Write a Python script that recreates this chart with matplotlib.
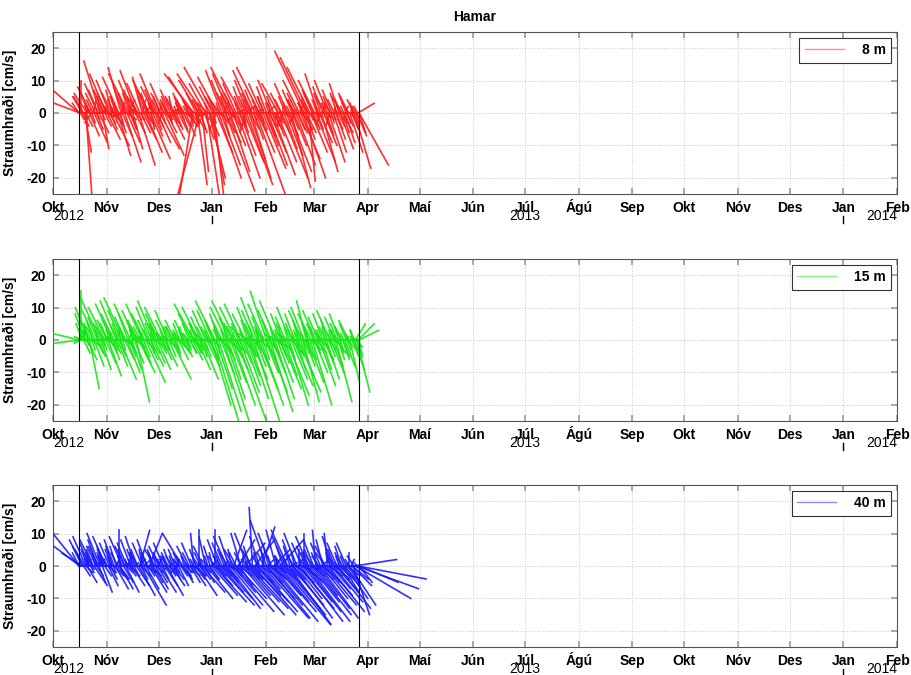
import numpy as np
import pandas as pd
import matplotlib
matplotlib.use('Agg')
import matplotlib.pyplot as plt
import matplotlib.dates as mdates
from matplotlib.lines import Line2D

plt.rcParams['font.family'] = ['Liberation Sans', 'DejaVu Sans']

# mælitími (deployment)
start = '2012-10-16'
end = '2013-03-27'

month_labels = ['Okt', 'Nóv', 'Des', 'Jan', 'Feb', 'Mar', 'Apr', 'Maí', 'Jún',
                'Júl', 'Ágú', 'Sep', 'Okt', 'Nóv', 'Des', 'Jan', 'Feb']
depths = ['8 m', '15 m', '40 m']
colors = ['#ff1a1a', '#14e614', '#1a1aff']

# 8 m: austur (u) og norður (v) þáttur [cm/s], ein lína ~ 11 dagar
u8 = [-8, -8, 0, 2, -3, 2, 2, -4, -1, 3, -4, 1, -2, 4, -3, 1,
      -4, 3, -5, -1, 2, -3, 2, -5, 4, -1, -4, 2, -3, 5, -2, 1,
      -2, 4, -5, 1, -4, 3, -3, 5, -1, 4, -6, -2, 2, -4, 3, 0,
      3, -5, -2, 5, -4, 1, -3, 4, -2, 5, -3, 2, -5, 6, -1, 3,
      -4, 2, -5, 4, -2, 6, -3, 1, -4, 6, -1, 3, -2, 1, -3, 4,
      -2, 1, -3, 2, -1, 3, -2, 1, -2, 2, -3, 3, -1, 2, -2, 2,
      -7, -4, -9, 1, -3, 3, -6, -7, -2, 2, -8, 3, -5, 4, -1, 5,
      -8, 4, -4, 3, -2, 5, -6, 7, -1, 6, -5, 2, -4, 9, -3, 4,
      -5, 6, -3, 4, -7, 2, -4, 7, -1, 5, -6, 2, -3, 6, -2, 8,
      -4, 5, -2, 6, -6, 3, -3, 9, -1, 5, -7, 2, -4, 7, -2, 4,
      -3, 6, -1, 5, -4, 7, -2, 3, 1, 6, -5, 1, -3, 8, 0, 4,
      -2, 5, -4, 7, -1, 6, -3, 4, -2, 6, -3, 2, -5, 6, -1, 7,
      -9, 3, -8, -2, 2, -7, 5, -3, 2, -5, 6, -1, -4, 4, -2, 5,
      -3, 4, -1, 2, -4, 5, -2, 1, -3, 4, 0, 3, -2, 2, -3, 4,
      -2, 2, -1, 3, -2, 1, -3, 4, 0, 2, -1, 5, -1, 3, 5, 9]
v8 = [7, 3, 10, -4, 5, -12, -28, 6, 2, -7, 8, -3, 4, -9, 6, -2,
      9, -6, 16, 3, -11, 7, -4, 12, -8, 2, 10, -5, 6, -10, 4, -2,
      5, -13, 11, -3, 14, -7, 8, -15, 3, -9, 12, 6, -5, 10, -11, 2,
      -6, 13, 4, -16, 9, -2, 11, -8, 5, -12, 7, -4, 10, -14, 3, -7,
      8, -5, 12, -9, 4, -11, 6, -3, 9, -13, 3, -6, 5, -2, 7, -8,
      4, -3, 5, -5, 2, -6, 6, -2, 3, -4, 5, -7, 2, -3, 4, -4,
      11, -25, 12, -3, 6, -22, 10, -26, 4, -18, 12, -8, 9, -26, 3, -20,
      14, -22, 8, -25, 5, -12, 11, -20, 3, -16, 13, -7, 10, -24, 6, -9,
      12, -18, 6, -10, 14, -4, 9, -20, 3, -13, 11, -6, 8, -15, 5, -22,
      10, -14, 4, -20, 13, -8, 7, -25, 2, -12, 14, -5, 9, -17, 5, -10,
      8, -16, 3, -12, 10, -19, 5, -7, -4, -15, 9, -2, 6, -20, 2, -11,
      5, -13, 9, -18, 2, -23, 7, -10, 4, -16, 6, -5, 10, -14, 3, -20,
      19, -8, 17, 4, -21, 14, -12, 7, -5, 10, -15, 3, 12, -9, 6, -18,
      8, -10, 3, -6, 10, -15, 5, -3, 7, -12, 2, -8, 6, -4, 9, -11,
      4, -6, 2, -9, 5, -3, 6, -12, 1, -5, 3, -17, 2, -7, 3, -16]
# 8 m, minni straumar (þéttur kjarni)
u8c = [-2, 1, -3, 2, 2, -2, -1, -2, 1, 3, 2, -3, 2, 1, -2, 3,
       -3, 2, 1, -2, 3, -1, -2, 2, 1, -3, -2, 3, 2, 2, -1, -3,
       2, -3, -2, 3, 1, 2, 2, -2, 3, 1, -1, -3, 2, 1, -2, -1,
       -1, 2, -2, 1, 2, -1, 2, 1, -2, -1, 2, -2, 1, 2, -1, 1,
       2, -2, 3, 1, -2, 2, -1, -2, 1, -3, 3, 2, 1, -3, -2, 2,
       -3, 2, 1, 3, -2, 2, -1, 3, -3, -2, 2, 2, -2, 1, 3, -2,
       -2, 3, -3, 1, 2, 3, -2, 1, -1, -2, 3, 2, 2, -1, 3, 1,
       2, -1, 3, -2, -2, 1, -1, 3, 2, 2, -2, -2, 3, 1, 2, 3,
       -2, 3, -2, 1, 2, -3, 2, 2, -2, -1, 1, 3, -3, 2, -1, -2,
       1, -2, 2, -1, 2, -3, 3, 1, 2, -2, 1, 2, -2, 1, -1, 2]
v8c = [3, -2, 5, 1, -4, 6, 2, -3, 4, 0, -5, 7, 1, -2, 5, -1,
       6, -3, 2, 7, -4, 1, 5, -6, 3, -1, 6, -2, 4, -5, 2, 7,
       -2, 5, 1, -6, 4, 2, -3, 6, 0, -5, 3, 7, -4, 2, 5, -3,
       3, -2, 4, -3, 1, 5, -4, 2, -1, 3, -5, 4, 0, -2, 3, -4,
       -3, 2, -5, -1, 4, -6, 1, -4, -2, 3, -7, 0, -3, 5, -5, -1,
       4, -3, 2, -6, 5, -1, 3, -5, 6, -2, 1, -4, 5, -3, 2, -6,
       3, -5, 6, -2, 1, -6, 4, -3, -1, 5, -7, 2, -4, 3, -5, 0,
       -3, 2, -6, 4, -4, -1, 3, -7, 1, -5, 4, -3, -6, 2, -2, -5,
       3, -6, 5, -2, -4, 6, -1, -5, 4, -3, 2, -7, 5, -2, -4, 3,
       -2, 4, -5, 1, -3, 5, -6, 2, -4, 3, -1, -5, 4, -3, 2, -6]

# 15 m
u15 = [-8, -8, 0, -2, 2, -3, -1, 3, -4, 3, -3, 1, -2, 3, -4, 1,
       -3, 2, -6, 3, -2, 1, -5, 3, -3, 4, -1, 2, -5, 2, -4, 1,
       -5, 3, -2, 5, -4, 1, -6, 3, -2, 4, -3, 2, -5, 3, -1, 3,
       -4, 4, -3, 5, -2, 3, -5, 2, -4, 6, -1, 3, -4, 4, -2, 2,
       -5, 3, -2, 4, -4, 2, -5, 3, -1, 4, -3, 1, -4, 2, -2, 6,
       -2, 2, -3, 1, -1, 3, -2, 1, -1, 2, -3, 2, -1, 1, -2, 2,
       -4, 3, -6, 2, -2, 4, -5, 1, -3, 5, -2, 2, -4, 4, -1, 3,
       -4, 6, -2, 8, -6, 5, -1, 7, -3, 4, -3, 8, -1, 6, -5, 4,
       -3, 5, -6, 7, -2, 4, -5, 9, -2, 6, -5, 3, -1, 5, -4, 4,
       -2, 6, -4, 5, -1, 8, -4, 3, -5, 6, -1, 7, -3, 2, -5, 4,
       -5, 6, -2, 7, -4, 4, -1, 6, -5, 5, -1, 3, -3, 6, -2, 4,
       -3, 7, -1, 6, -4, 5, -2, 6, -3, 3, -1, 7, -2, 4, -4, 5,
       -4, 3, -3, 5, -2, 2, -4, 6, -1, 4, -4, 1, -3, 5, -1, 3,
       -3, 3, -1, 4, -2, 2, -4, 4, -1, 3, -3, 5, -2, 2, -3, 1,
       -2, 2, -1, 3, -2, 1, -3, 3, 0, 2, -1, 3, 3, 4, 5, 6]
v15 = [2, -1, 15, 5, -4, 8, 3, -6, 10, -15, 6, -3, 4, -8, 9, -2,
       7, -5, 13, -9, 4, -3, 10, -7, 6, -11, 3, -4, 11, -6, 8, -2,
       12, -8, 5, -12, 9, -3, 13, -6, 4, -10, 8, -5, 11, -9, 3, -7,
       9, -19, 6, -10, 4, -7, 11, -5, 8, -13, 3, -6, 10, -8, 5, -4,
       12, -7, 5, -9, 8, -4, 10, -6, 3, -8, 6, -3, 9, -5, 4, -12,
       4, -5, 6, -3, 2, -6, 5, -2, 3, -4, 6, -5, 2, -3, 5, -4,
       8, -6, 11, -4, 5, -9, 10, -3, 7, -12, 4, -5, 9, -8, 3, -6,
       9, -20, 5, -26, 12, -15, 4, -22, 8, -10, 6, -25, 3, -18, 10, -12,
       7, -13, 12, -20, 4, -9, 10, -25, 5, -16, 11, -7, 3, -14, 8, -11,
       6, -18, 10, -12, 4, -25, 9, -8, 13, -15, 3, -20, 7, -6, 11, -10,
       15, -16, 6, -22, 9, -10, 4, -18, 12, -13, 3, -7, 8, -15, 5, -11,
       7, -17, 4, -20, 10, -12, 5, -14, 8, -9, 3, -16, 6, -11, 9, -19,
       10, -8, 12, -13, 5, -6, 8, -20, 4, -10, 9, -4, 7, -14, 3, -9,
       8, -7, 4, -12, 6, -5, 9, -10, 3, -8, 7, -19, 5, -6, 8, -4,
       4, -6, 2, -8, 5, -3, 6, -13, 1, -5, 3, -9, 5, -16, 5, 3]
u15c = [2, -2, 1, -3, 2, -1, -2, 3, -2, 1, 2, -1, 3, 1, -3, 2,
        -2, 3, -1, -3, 2, 1, -2, 2, -1, 3, -3, 2, 1, 2, 2, -2,
        3, -2, 1, 2, -1, -2, 3, -3, 2, 1, -1, -2, 3, 2, -3, 1,
        -2, 1, -1, 2, 1, -2, 2, -1, 1, -2, 2, -1, 2, 1, -2, 2,
        3, -1, 2, -2, -3, 2, -2, 1, 2, -2, 3, -1, 2, -3, 1, 2,
        -2, 3, -2, 3, -1, 2, 1, 3, -3, 2, -1, 2, -3, 2, 2, 3,
        -3, 2, -2, 2, 1, 3, -1, 2, -2, -3, 3, 1, 3, -2, 2, -1,
        3, -2, 2, -1, 2, -2, -3, 2, 1, 3, -2, 1, 2, -1, 3, 2,
        -3, 2, -1, 2, 3, -2, 1, 3, -1, 2, -2, 3, -2, 1, 2, -1,
        2, -1, 3, -2, 1, -2, 2, 1, 3, -1, 2, 3, -1, 2, -2, 1]
v15c = [2, -1, 4, 1, -3, 5, 3, -2, 6, 0, -4, 3, 1, -2, 5, 2,
        5, -3, 1, 6, -4, 2, 4, -5, 3, -1, 7, -2, 2, -4, 1, 6,
        -2, 4, 2, -5, 3, 1, -3, 6, 0, -4, 2, 5, -3, 1, 4, -2,
        2, -3, 3, -2, 1, 4, -4, 2, -1, 3, -3, 4, 0, -2, 2, -4,
        -2, 3, -4, 1, 5, -5, 2, -3, -1, 4, -6, 1, -2, 6, -4, 0,
        3, -4, 1, -6, 4, -2, 2, -5, 5, -3, 0, -4, 4, -2, 1, -5,
        2, -5, 5, -3, 0, -6, 3, -2, -1, 4, -6, 1, -4, 2, -5, 1,
        -2, 3, -5, 4, -3, -1, 2, -6, 1, -4, 3, -2, -5, 2, -1, -4,
        4, -5, 3, -1, -3, 5, 0, -4, 3, -2, 2, -6, 4, -1, -3, 2,
        -1, 3, -4, 2, -3, 4, -5, 1, -3, 2, 0, -4, 3, -2, 1, -5]

# 40 m
u40 = [-8, -8, -6, -4, 2, -3, -4, 3, -1, -3, 1, -2, -4, 4, -1, -3,
       -3, 2, -4, -1, 3, -2, 2, -4, -1, 3, -3, 2, -2, 1, -3, 4,
       -2, 3, 0, 4, -1, -4, 3, -2, 4, -3, -1, 2, -3, 4, -1, 1,
       -3, 4, -2, 5, 3, 2, -3, 7, -1, 4, -3, 2, 4, 5, -1, 3,
       -2, 4, -1, 3, -3, 5, -1, 2, -3, 4, -1, 5, -2, 2, -2, 4,
       -1, 2, -2, 1, -1, 3, -2, 2, -6, 3, -1, 2, -3, 1, -2, 3,
       -3, 4, -1, 3, -2, 6, 0, 2, -2, 7, -3, 3, -2, 8, -1, 3,
       -2, 8, -1, 10, 0, 5, -3, 11, -1, 7, -3, 9, -2, 4, -4, 10,
       -3, 10, -1, 7, 4, 12, -2, 9, 5, 4, -3, 13, 0, 8, 6, 10,
       -4, 12, -2, 9, -1, 13, 6, 10, -1, 12, -3, 6, 4, 14, -1, 9,
       -5, 13, -2, 10, -4, 14, 5, 8, -3, 12, -1, 9, 7, 15, -2, 11,
       -4, 12, -5, 13, -2, 10, -3, 12, -1, 8, -4, 11, 0, 13, -3, 9,
       0, 11, -3, 13, -4, 9, -2, 12, -3, 7, -1, 10, -2, 12, -3, 8,
       -2, 10, -3, 8, -1, 11, -1, 6, -3, 9, -2, 7, -3, 10, -1, 6,
       -2, 5, -1, 7, -3, 4, 0, 8, 1, 6, 5, 13, 17, 19, 21, 12]
v40 = [10, 6, 4, 8, -3, 5, 9, -5, 2, 7, -2, 4, 8, -6, 3, 6,
       8, -5, 10, 3, -8, 6, -3, 9, 2, -6, 7, -4, 5, -2, 8, -7,
       6, -4, 11, -7, 3, 9, -5, 5, -8, 7, 2, -3, 8, -6, 4, -2,
       9, -6, 5, -9, 11, -4, 7, -12, 3, -7, 8, -3, 10, -8, 4, -5,
       5, -7, 3, -5, 6, -8, 2, -4, 7, -6, 3, -9, 4, -3, 5, -6,
       3, -4, 5, -2, 2, -6, 4, -3, 10, -5, 3, -4, 6, -2, 4, -5,
       7, -6, 10, -4, 5, -9, 11, -3, 4, -8, 6, -5, 9, -10, 3, -4,
       6, -9, 4, -11, 11, -6, 8, -12, 3, -8, 7, -10, 5, -5, 9, -13,
       9, -12, 5, -8, 11, -14, 4, -10, 8, -6, 10, -15, 3, -9, 7, -11,
       10, -13, 6, -9, 18, -15, 8, -11, 4, -14, 9, -7, 12, -16, 5, -10,
       14, -16, 7, -12, 10, -17, 5, -9, 11, -14, 3, -11, 8, -18, 6, -13,
       9, -15, 11, -18, 6, -12, 8, -16, 4, -10, 10, -13, 5, -17, 7, -11,
       10, -14, 6, -17, 9, -11, 5, -15, 8, -9, 11, -13, 4, -16, 7, -10,
       8, -12, 6, -9, 10, -14, 4, -7, 9, -11, 5, -8, 7, -13, 3, -6,
       6, -8, 3, -10, 7, -5, 4, -12, 2, -6, -15, 2, -10, -7, -4, -5]
u40c = [-2, -1, -3, 2, 2, -2, -1, 1, -2, 3, 2, -3, 1, -1, -2, 2,
        -3, 2, -1, -2, 3, 1, -2, 3, -1, 2, -3, 2, 1, 3, -1, -2,
        1, -2, 2, 3, -1, 2, 3, -2, 2, 3, -1, -3, 2, 1, -2, 1,
        -1, 2, -2, 3, 1, -2, 3, 1, -1, -2, 3, -2, 1, 2, -1, 3,
        2, -1, 3, 1, -2, 3, -1, 2, 1, -2, 3, 1, 2, -2, 3, 2,
        -2, 3, 1, 4, -2, 2, -1, 3, -3, 2, 1, 4, -2, 2, 1, 4,
        -2, 4, -3, 2, 1, 5, -2, 3, 1, -2, 5, 2, 4, -1, 4, 1,
        3, -1, 5, -2, 4, 2, -1, 5, 2, 4, -2, 3, 5, 1, 3, 4,
        -2, 5, -2, 3, 4, -3, 2, 5, -2, 3, 2, 5, -3, 2, 4, -1,
        2, -2, 4, -1, 3, -2, 5, 1, 4, -1, 2, 5, -2, 3, -1, 4]
v40c = [4, 1, 6, 2, -2, 5, 3, -1, 5, 2, -3, 6, 1, 3, 4, 0,
        5, -2, 3, 6, -3, 2, 4, -4, 3, 1, 6, -2, 3, -3, 2, 5,
        1, 4, 2, -3, 5, 2, -2, 4, 0, -3, 3, 5, -2, 2, 4, -1,
        2, -2, 3, -3, 1, 3, -4, 2, -1, 2, -3, 3, 0, -2, 1, -3,
        -1, 2, -3, 1, 3, -4, 1, -2, 0, 2, -4, 1, -1, 3, -3, 0,
        3, -3, 1, -4, 4, -1, 2, -3, 5, -2, 1, -3, 4, -1, 2, -4,
        2, -4, 5, -2, 1, -5, 3, -2, 0, 4, -5, 2, -3, 3, -4, 1,
        -2, 3, -4, 3, -3, 0, 2, -5, 1, -4, 3, -2, -5, 2, -1, -3,
        3, -5, 4, -1, -3, 4, 0, -4, 3, -2, 2, -5, 4, -1, -3, 2,
        -1, 3, -4, 1, -3, 4, -5, 1, -3, 2, 0, -4, 3, -2, 1, -5]

series = [((u8, v8), (u8c, v8c)),
          ((u15, v15), (u15c, v15c)),
          ((u40, v40), (u40c, v40c))]

W, H = 912, 675
fig = plt.figure(figsize=(W / 100, H / 100), dpi=100)

x0 = mdates.date2num(pd.Timestamp('2012-10-01'))
x1 = mdates.date2num(pd.Timestamp('2014-02-01'))
months = mdates.date2num(pd.date_range('2012-10-01', '2014-02-01', freq='MS'))

left, right = 53, 897
tops = [32, 259, 485]
ph = 162

for k, pairs in enumerate(series):
    ax = fig.add_axes([left / W, 1 - (tops[k] + ph) / H, (right - left) / W, ph / H])
    ax.set_xlim(x0, x1)
    ax.set_ylim(-25, 25)

    # sama kvarði í x og y (dagar á cm/s)
    sc = (x1 - x0) / (right - left) * ph / 50.0
    for u, v in pairs:
        u = np.asarray(u, float)
        v = np.asarray(v, float)
        t = mdates.date2num(pd.date_range(start, end, periods=len(u)))
        ax.plot(np.vstack([t, t + u * sc]), np.vstack([np.zeros_like(v), v]),
                color=colors[k], lw=1.2, alpha=0.9, zorder=3)

    ax.axvline(mdates.date2num(pd.Timestamp(start)), color='k', lw=0.8, zorder=4)
    ax.axvline(mdates.date2num(pd.Timestamp(end)), color='k', lw=0.8, zorder=4)

    ax.set_xticks(months)
    ax.set_xticklabels(month_labels, fontweight='bold', fontsize=10)
    for lbl in ax.get_xticklabels():
        lbl.set_verticalalignment('baseline')
    ax.set_yticks([-20, -10, 0, 10, 20])
    ax.set_yticklabels(['-20', '-10', '0', '10', '20'], fontweight='bold', fontsize=10)
    ax.tick_params(direction='in', top=True, right=True, length=4, width=1.2,
                   color='#999999', pad=5)
    ax.tick_params(axis='x', pad=13)
    ax.grid(True, linestyle=':', color='#c8c8c8', lw=0.7)
    for s in ax.spines.values():
        s.set_color('#555555')
        s.set_linewidth(0.8)

    ax.set_ylabel('Straumhraði [cm/s]', fontweight='bold', fontsize=10)
    ax.yaxis.set_label_coords((17 - left) / (right - left), 0.5)

    tr = ax.get_xaxis_transform()
    yy = -26 / ph
    ax.text(months[0], yy, '2012', ha='left', va='baseline', fontsize=10, transform=tr)
    ax.text(months[9], yy, '2013', ha='center', va='baseline', fontsize=10, transform=tr)
    ax.text(months[16], yy, '2014', ha='right', va='baseline', fontsize=10, transform=tr)
    for m in (months[3], months[15]):
        ax.plot([m, m], [-22 / ph, -29 / ph], color='k', lw=1, transform=tr, clip_on=False)

    h = Line2D([], [], color=colors[k], lw=1, alpha=0.5)
    leg = ax.legend([h], [depths[k]], loc='upper right', prop=dict(weight='bold', size=10),
                    handlelength=2.8, handletextpad=1.3, borderaxespad=0.4,
                    fancybox=False, edgecolor='#333333', framealpha=1)
    leg.get_frame().set_linewidth(0.8)

fig.text((left + right) / 2 / W, 1 - 17 / H, 'Hamar', ha='center', va='center',
         fontweight='bold', fontsize=10)

fig.savefig('out.png', dpi=100)
